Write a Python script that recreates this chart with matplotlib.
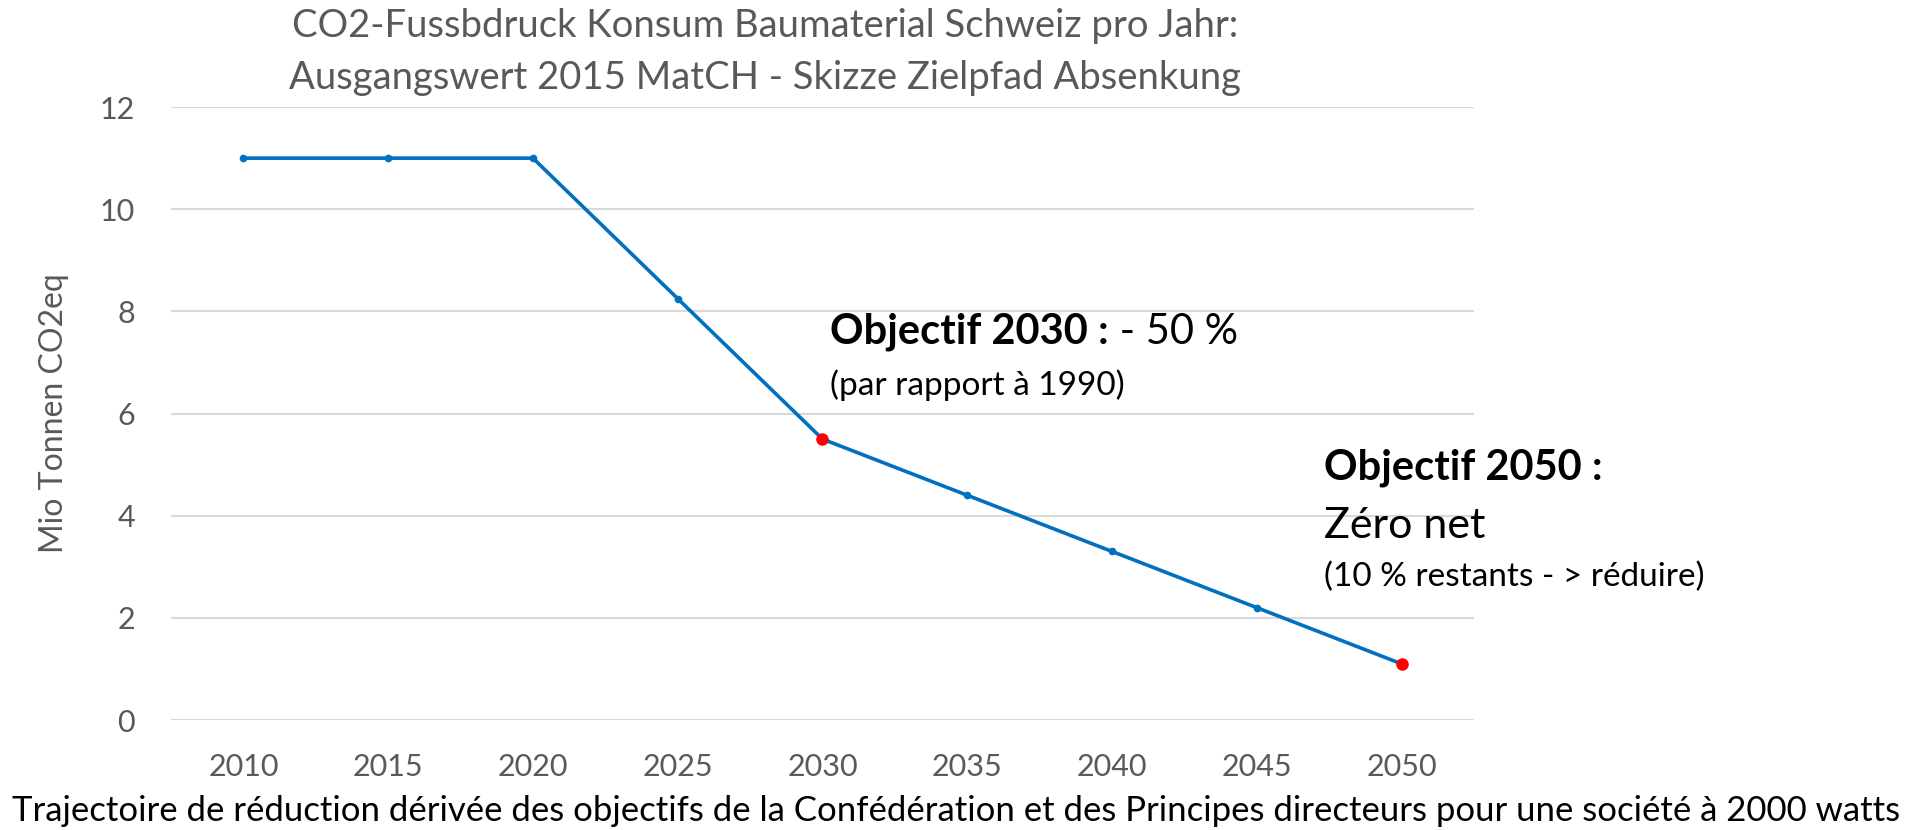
import numpy as np
import matplotlib.pyplot as plt

# Data
years = ['2010', '2015', '2020', '2025', '2030', '2035', '2040', '2045', '2050']
values = [11.0, 11.0, 11.0, 8.25, 5.5, 4.4, 3.3, 2.2, 1.1]
target_years = ['2030', '2050']
y_ticks = [0, 2, 4, 6, 8, 10, 12]

title = 'CO2-Fussbdruck Konsum Baumaterial Schweiz pro Jahr:\nAusgangswert 2015 MatCH - Skizze Zielpfad Absenkung'
caption = ('Trajectoire de réduction dérivée des objectifs de la Confédération '
           'et des Principes directeurs pour une société à 2000 watts')

plt.rcParams['font.family'] = ['Lato', 'DejaVu Sans']
grey = '#595959'
blue = '#0070C0'

fig = plt.figure(figsize=(19.13, 8.3), dpi=100)
ax = fig.add_axes([0.0894, 0.1325, 0.6811, 0.7385])

x = np.arange(len(years))
ax.plot(x, values, color=blue, linewidth=2.6, marker='o', markersize=4.5, zorder=3)
tidx = [years.index(t) for t in target_years]
ax.plot(x[tidx], np.array(values)[tidx], linestyle='none', marker='o',
        markersize=8, color='red', zorder=4)

ax.set_xlim(-0.5, len(years) - 0.5)
ax.set_ylim(0, 12)
ax.set_xticks(x)
ax.set_xticklabels(years)
ax.set_yticks(y_ticks)
ax.tick_params(axis='both', length=0, labelsize=22, labelcolor=grey)
ax.tick_params(axis='x', pad=24)
ax.tick_params(axis='y', pad=26)
ax.grid(axis='y', color='#D9D9D9', linewidth=1.5)
ax.set_axisbelow(True)
for s in ax.spines.values():
    s.set_visible(False)

ax.set_ylabel('Mio Tonnen CO2eq', fontsize=23, color=grey, labelpad=22)
fig.text(0.40, 0.99, title, ha='center', va='top', fontsize=27.5, color=grey,
         linespacing=1.55)
fig.text(0.5, 1 - 811 / 830, caption, ha='center', va='center', fontsize=25, color='black')

# annotations
fig.canvas.draw()
r = fig.canvas.get_renderer()


def two_part(xf, yf, bold, normal, size):
    t = fig.text(xf, yf, bold, fontsize=size, fontweight='bold', va='center', ha='left')
    bb = t.get_window_extent(r)
    fig.text(bb.x1 / fig.bbox.width, yf, normal, fontsize=size, va='center', ha='left')


two_part(830 / 1913, 1 - 332 / 830, 'Objectif 2030 :', ' - 50 %', 30)
fig.text(830 / 1913, 1 - 385 / 830, '(par rapport à 1990)', fontsize=24, va='center')
fig.text(1324 / 1913, 1 - 468 / 830, 'Objectif 2050 :', fontsize=30,
         fontweight='bold', va='center')
fig.text(1324 / 1913, 1 - 526 / 830, 'Zéro net', fontsize=31, va='center')
fig.text(1324 / 1913, 1 - 577 / 830, '(10 % restants - > réduire)', fontsize=24, va='center')

fig.savefig('out.png', dpi=100)
